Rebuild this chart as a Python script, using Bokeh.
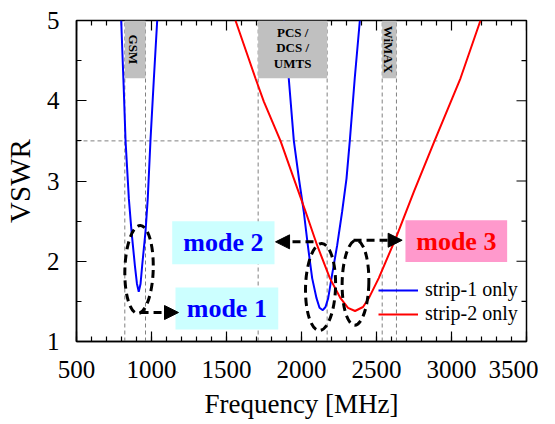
import math
from bokeh.plotting import figure
from bokeh.models import Range1d, SingleIntervalTicker, Arrow, NormalHead, Legend, LegendItem
from bokeh.core.properties import value
from bokeh.embed import file_html
from bokeh.resources import INLINE

# ---- data ----
blue1_f = [798, 815, 827, 849, 867, 889, 903, 915, 927, 938, 960, 975, 993, 1015, 1038]
blue1_v = [5.0, 4.15, 3.5, 2.78, 2.37, 1.95, 1.72, 1.62, 1.72, 1.95, 2.37, 2.78, 3.5, 4.25, 5.0]

blue2_f = [1883, 1915, 1949, 1985, 2015, 2042, 2071, 2100, 2120, 2142, 2160, 2178, 2200, 2238, 2271, 2300, 2322, 2355, 2389]
blue2_v = [5.0, 4.28, 3.5, 3.0, 2.62, 2.2, 1.79, 1.54, 1.42, 1.39, 1.43, 1.54, 1.79, 2.2, 2.62, 3.03, 3.5, 4.28, 5.0]

red_f = [1560, 1693, 1749, 1860, 1949, 2027, 2104, 2189, 2260, 2310, 2357, 2410, 2449, 2515, 2627, 2750, 2887, 3060, 3193]
red_v = [5.0, 4.28, 3.99, 3.5, 3.03, 2.62, 2.2, 1.79, 1.54, 1.42, 1.38, 1.43, 1.54, 1.79, 2.28, 2.87, 3.5, 4.28, 5.0]

band_edges = [822, 960, 1711, 2171, 2538, 2633]
band_left = [822, 1711, 2538]
band_right = [960, 2171, 2633]
threshold = 3.5

x_major = [500, 1000, 1500, 2000, 2500, 3000, 3500]
x_minor = [f for f in range(600, 3500, 100) if f % 500 != 0]
y_major = [1, 2, 3, 4, 5]
y_minor = [1.5, 2.5, 3.5, 4.5]

FONT = "Liberation Serif"

p = figure(frame_width=450, frame_height=321,
           x_range=Range1d(500, 3500), y_range=Range1d(1, 5),
           output_backend="svg", toolbar_location=None,
           min_border_left=68, min_border_right=12, min_border_top=20, min_border_bottom=67,
           background_fill_color="white", border_fill_color="white")
p.grid.visible = False
p.outline_line_color = "black"
p.outline_line_width = 1.5

p.xaxis.ticker = SingleIntervalTicker(interval=500, num_minor_ticks=5)
p.yaxis.ticker = SingleIntervalTicker(interval=1, num_minor_ticks=2)

for ax in list(p.xaxis) + list(p.yaxis):
    ax.axis_line_color = "black"
    ax.axis_line_width = 1.5
    ax.major_tick_in = 10
    ax.major_tick_out = 0
    ax.minor_tick_in = 5
    ax.minor_tick_out = 0
    ax.major_tick_line_color = "black"
    ax.minor_tick_line_color = "black"
    ax.major_tick_line_width = 1.2
    ax.minor_tick_line_width = 1.2
    ax.major_label_text_font = FONT
    ax.major_label_text_color = "black"
    ax.major_label_text_font_size = "25px"
    ax.axis_label_text_font = FONT
    ax.axis_label_text_font_style = "normal"
    ax.axis_label_text_color = "black"

p.xaxis.major_label_standoff = 19
p.xaxis.axis_label = "Frequency [MHz]"
p.xaxis.axis_label_text_font_size = "27px"
p.xaxis.axis_label_standoff = 8
p.yaxis.major_label_standoff = 17
p.yaxis.axis_label = "VSWR"
p.yaxis.axis_label_text_font_size = "29px"
p.yaxis.axis_label_standoff = 8

# mirrored inward ticks on top and right edges
p.ray(x=x_major, y=[5] * len(x_major), length=10, length_units="screen",
      angle=-math.pi / 2, line_color="black", line_width=1.2)
p.ray(x=x_minor, y=[5] * len(x_minor), length=5, length_units="screen",
      angle=-math.pi / 2, line_color="black", line_width=1.2)
p.ray(x=[3500] * len(y_major), y=y_major, length=10, length_units="screen",
      angle=math.pi, line_color="black", line_width=1.2)
p.ray(x=[3500] * len(y_minor), y=y_minor, length=5, length_units="screen",
      angle=math.pi, line_color="black", line_width=1.2)

# dashed guide lines
p.segment(x0=band_edges, y0=[1] * len(band_edges), x1=band_edges, y1=[5] * len(band_edges),
          line_color="#808080", line_dash="4 3", line_width=1)
p.segment(x0=[500], y0=[threshold], x1=[3500], y1=[threshold],
          line_color="#808080", line_dash="4 3", line_width=1)

# curves
rb1 = p.line(blue1_f, blue1_v, line_color="#0000ff", line_width=2)
rb2 = p.line(blue2_f, blue2_v, line_color="#0000ff", line_width=2)
rr = p.line(red_f, red_v, line_color="#ff0000", line_width=2)

# band boxes on top
p.quad(left=band_left, right=band_right, bottom=[4.28] * 3, top=[5.0] * 3,
       fill_color="#c0c0c0", line_color=None)

band_font = dict(text_font=value(FONT), text_font_style="bold", text_font_size="13px",
                 text_color="black", text_align="center", text_baseline="middle")
p.text(x=[880, 2577], y=[4.64, 4.64], text=["GSM", "WiMAX"], angle=-math.pi / 2, **band_font)
p.text(x=[1941, 1941, 1941], y=[4.85, 4.66, 4.46], text=["PCS /", "DCS /", "UMTS"], **band_font)

# mode boxes
p.quad(left=[1138, 1160], right=[1820, 1845], bottom=[1.963, 1.15], top=[2.50, 1.673],
       fill_color="#ccffff", line_color=None)
p.quad(left=[2693], right=[3371], bottom=[1.99], top=[2.51],
       fill_color="#ff99cc", line_color=None)
mode_font = dict(text_font=value(FONT), text_font_style="bold", text_font_size="26px",
                 text_align="center", text_baseline="middle")
p.text(x=[1479, 1502], y=[2.232, 1.41], text=["mode 2", "mode 1"], text_color="#0000ff", **mode_font)
p.text(x=[3032], y=[2.25], text=["mode 3"], text_color="#ff0000", **mode_font)

# dashed ellipses
p.ellipse(x=[917, 2127, 2360], y=[1.897, 1.679, 1.733], width=[189, 200, 178],
          height=[1.097, 1.084, 1.06], angle=[-0.03, -0.03, -0.02],
          fill_color=None, line_color="black", line_width=3, line_dash="8 5")

# arrows
for xs, ys, xe, ye in [(927, 1.361, 1180, 1.361), (2080, 2.242, 1827, 2.242), (2347, 2.262, 2671, 2.262)]:
    p.add_layout(Arrow(end=NormalHead(size=14, fill_color="black", line_color="black"),
                       x_start=xs, y_start=ys, x_end=xe, y_end=ye,
                       line_color="black", line_width=3, line_dash="8 5"))

legend = Legend(items=[LegendItem(label="strip-1 only", renderers=[rb1]),
                       LegendItem(label="strip-2 only", renderers=[rr])],
                location=(302, 16), background_fill_alpha=0, border_line_alpha=0,
                padding=0, margin=0, spacing=1, glyph_width=40, glyph_height=20,
                label_height=20, label_standoff=7, label_text_font=FONT,
                label_text_font_size="20px", label_text_color="black")
p.add_layout(legend)

open("out.html", "w").write(file_html(p, INLINE))
